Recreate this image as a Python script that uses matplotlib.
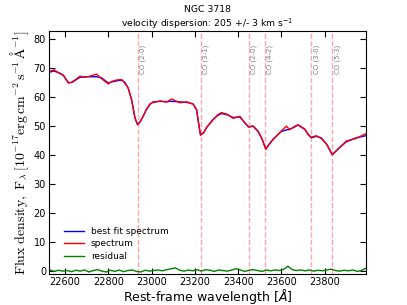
import matplotlib
matplotlib.use('Agg')
import matplotlib.pyplot as plt
import numpy as np

# best fit (blue)
wave = [22530, 22535, 22549, 22577, 22592, 22615, 22631, 22654, 22669, 22692,
        22720, 22746, 22769, 22800, 22816, 22840, 22862, 22877, 22892, 22908,
        22923, 22935, 22948, 22961, 22975, 22992, 23007, 23040, 23069, 23092,
        23131, 23165, 23192, 23208, 23218, 23226, 23240, 23254, 23283, 23305,
        23323, 23350, 23377, 23408, 23431, 23448, 23469, 23492, 23510, 23528,
        23545, 23561, 23600, 23623, 23638, 23660, 23677, 23708, 23725, 23738,
        23762, 23785, 23810, 23835, 23861, 23900, 23946, 23990]
fit = [68.6, 68.7, 69.0, 68.2, 67.4, 65.0, 65.0, 66.1, 66.8, 67.0,
       67.0, 67.0, 66.6, 64.8, 65.2, 65.6, 65.8, 65.0, 63.0, 58.9,
       52.8, 50.4, 51.5, 53.4, 55.5, 57.4, 58.3, 58.5, 58.4, 58.5,
       58.3, 58.1, 57.6, 55.5, 50.5, 46.8, 47.6, 49.4, 52.2, 53.6,
       54.3, 53.8, 52.9, 53.1, 51.1, 49.6, 49.9, 48.2, 45.5, 42.0,
       43.8, 45.4, 48.1, 48.6, 48.8, 49.6, 50.3, 48.8, 47.0, 45.9,
       46.4, 45.8, 43.5, 40.0, 42.0, 44.5, 45.9, 46.6]
# observed spectrum (red), mostly on the fit with a few wiggles
spec = [68.8, 69.0, 69.4, 68.0, 67.6, 64.8, 65.1, 66.3, 67.2, 66.8,
        67.3, 67.9, 66.3, 64.5, 65.4, 65.9, 66.0, 64.7, 63.1, 58.8,
        52.7, 50.5, 51.6, 53.3, 55.6, 57.6, 58.1, 58.6, 58.2, 59.3,
        58.0, 58.3, 57.5, 55.6, 50.4, 46.9, 47.5, 49.5, 52.0, 53.8,
        54.6, 54.0, 52.6, 53.3, 51.0, 49.7, 50.0, 48.0, 45.6, 41.9,
        43.9, 45.2, 48.3, 49.9, 48.7, 49.8, 50.4, 48.9, 46.8, 46.1,
        46.6, 45.6, 43.6, 40.1, 41.9, 44.8, 45.7, 47.3]
# residual (green)
residual = [0.2, -0.3, 0.1, -0.2, 0.0, -0.4, 0.1, -0.2, 0.2, -0.5,
            0.0, 0.3, -0.2, -0.5, 0.1, -0.3, 0.2, -0.4, 0.0, 0.2,
            -0.3, -0.5, 0.1, -0.2, 0.0, 0.2, -0.1, 0.3, 0.6, 0.9,
            0.1, -0.2, 0.2, -0.1, 0.3, -0.2, 0.3, 0.1, -0.3, 0.2,
            0.0, -0.2, 0.2, 0.6, 0.2, -0.3, 0.1, 0.3, 0.0, -0.3,
            0.2, -0.1, 0.2, 0.0, 0.4, 1.5, 0.3, 0.0, 0.2, -0.1,
            0.2, -0.2, 0.1, -0.1, 0.2, 0.5, 0.0, -0.2, 0.1, -0.1,
            0.2, -0.3, 0.0, 0.8]
res_wave = 22530 + 20 * np.arange(len(residual))

# CO bandheads
co_wave = [22935, 23227, 23448, 23525, 23738, 23836]
co_names = ['CO (2-0)', 'CO (3-1)', 'CO (2-0)', 'CO (4-2)', 'CO (3-0)', 'CO (5-3)']

fig = plt.figure(figsize=(4.07, 3.05), dpi=100)
ax = fig.add_axes([0.1216, 0.1016, 0.7772, 0.7967])

ax.plot(wave, fit, color='b', lw=1, label='best fit spectrum')
ax.plot(wave, spec, color='r', lw=1, label='spectrum')
ax.plot(res_wave, residual, color='g', lw=1, label='residual')

for w, name in zip(co_wave, co_names):
    ax.axvline(w, color='r', ls='--', lw=1, alpha=0.35)
    ax.text(w + 8, 78, name, rotation=90, fontsize=5, color='gray',
            ha='left', va='top')

ax.set_xlim(22528, 23990)
ax.set_ylim(-1.2, 82.8)
ax.set_xticks(np.arange(22600, 23801, 200))
ax.set_yticks(np.arange(0, 81, 10))
ax.tick_params(direction='in', top=True, right=True, labelsize=7, length=4, pad=2.5)

ax.set_xlabel(r'Rest-frame wavelength $[\AA]$', fontsize=9, labelpad=0)
ax.set_ylabel(r'$\mathrm{Flux\ density,\ F_{\lambda}\,[10^{-17}erg\,cm^{-2}\,s^{-1}\,\AA^{-1}]}$',
              fontsize=10, math_fontfamily='cm', labelpad=2)
ax.set_title('NGC 3718\nvelocity dispersion: 205 +/- 3 km s$^{-1}$',
             fontsize=6.7, linespacing=1.2, pad=3)

ax.legend(loc='lower left', frameon=False, fontsize=6.5, handlelength=2.2,
          bbox_to_anchor=(0.02, 0.02), labelspacing=0.4)

fig.savefig('out.png', dpi=100)
